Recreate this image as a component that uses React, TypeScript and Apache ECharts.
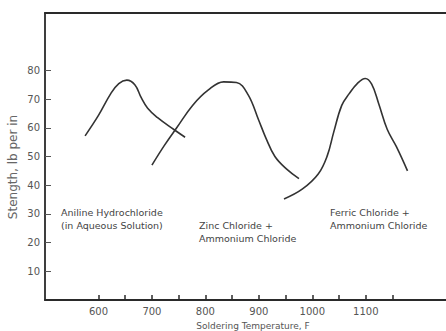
import React, { useEffect, useRef } from "react";
import * as echarts from "echarts";

// Aniline Hydrochloride (in Aqueous Solution)
const anilineX = [575, 600, 623, 638, 653, 668, 680, 692, 710, 741, 762];
const anilineY = [57.2, 64.3, 71.9, 75.4, 76.6, 75, 70.5, 66.8, 63.6, 59.4, 56.7];
// Zinc Chloride + Ammonium Chloride
const zincX = [700, 723, 747, 776, 805, 834, 858, 880, 899, 913, 930, 952, 975];
const zincY = [47, 53.8, 60.2, 67.8, 73.1, 76, 75.8, 71.5, 63, 56.5, 50, 45.6, 42.3];
// Ferric Chloride + Ammonium Chloride
const ferricX = [947, 981, 1011, 1028, 1040, 1055, 1069, 1084, 1099, 1111, 1124, 1140, 1157, 1178];
const ferricY = [35.2, 38.6, 43.9, 50.3, 58.5, 67.8, 71.9, 75.4, 77.2, 75.2, 68.5, 59.5, 53.5, 45];

const xTickValues = [600, 650, 700, 750, 800, 850, 900, 950, 1000, 1050, 1100, 1150];
const xLabelValues = [600, 700, 800, 900, 1000, 1100];
const yTickValues = [10, 20, 30, 40, 50, 60, 70, 80];

const xTitle = "Soldering Temperature, F";
const yTitle = "Stength, lb per in";
const annotations = [
  { text: "Aniline Hydrochloride\n(in Aqueous Solution)", left: 61, top: 206 },
  { text: "Zinc Chloride +\nAmmonium Chloride", left: 199, top: 219 },
  { text: "Ferric Chloride +\nAmmonium Chloride", left: 330, top: 206 },
];

const zip = (xs: number[], ys: number[]) => xs.map((x, i) => [x, ys[i]]);

const INK = "#2a2a2a";
const FONT = "DejaVu Sans";

export default function App() {
  const ref = useRef<HTMLDivElement>(null);
  useEffect(() => {
    if (!ref.current) return;
    const chart = echarts.init(ref.current, undefined, { renderer: "svg" });
    const lineSeries = (name: string, xs: number[], ys: number[]) => ({
      name,
      type: "line",
      data: zip(xs, ys),
      smooth: 0.4,
      showSymbol: false,
      lineStyle: { color: "#333", width: 1.6 },
    });
    chart.setOption({
      animation: false,
      backgroundColor: "#fff",
      grid: { left: 45, right: -25, top: 13, bottom: 31 },
      xAxis: [
        {
          type: "value",
          min: 500,
          max: 1250,
          position: "bottom",
          axisLine: { show: true, lineStyle: { color: INK, width: 2 } },
          axisTick: {
            show: true,
            inside: true,
            length: 5,
            customValues: xTickValues,
            lineStyle: { color: INK, width: 1.5 },
          },
          axisLabel: {
            customValues: xLabelValues,
            formatter: (v: number) => String(v),
            color: "#555",
            fontSize: 10,
            fontFamily: FONT,
            margin: 6,
          },
          splitLine: { show: false },
        },
        {
          type: "value",
          min: 500,
          max: 1250,
          position: "top",
          axisLine: { show: true, lineStyle: { color: INK, width: 2 } },
          axisTick: { show: false },
          axisLabel: { show: false },
          splitLine: { show: false },
        },
      ],
      yAxis: {
        type: "value",
        min: 0,
        max: 100,
        axisLine: { show: true, lineStyle: { color: INK, width: 1.8 } },
        axisTick: {
          show: true,
          inside: true,
          length: 6,
          customValues: yTickValues,
          lineStyle: { color: "#555", width: 1 },
        },
        axisLabel: {
          customValues: yTickValues,
          color: "#555",
          fontSize: 10,
          fontFamily: FONT,
          margin: 5,
        },
        splitLine: { show: false },
      },
      series: [
        lineSeries("Aniline Hydrochloride", anilineX, anilineY),
        lineSeries("Zinc Chloride + Ammonium Chloride", zincX, zincY),
        lineSeries("Ferric Chloride + Ammonium Chloride", ferricX, ferricY),
      ],
      graphic: [
        ...annotations.map((a) => ({
          type: "text",
          left: a.left,
          top: a.top,
          style: {
            text: a.text,
            fill: "#444",
            font: `9.5px "${FONT}"`,
            lineHeight: 13,
          },
        })),
        {
          type: "text",
          x: 253,
          y: 326,
          style: {
            text: xTitle,
            fill: "#555",
            font: `9px "${FONT}"`,
            align: "center",
            verticalAlign: "middle",
          },
        },
        {
          type: "text",
          x: 13,
          y: 167,
          rotation: Math.PI / 2,
          style: {
            text: yTitle,
            fill: "#666",
            font: `12px "${FONT}"`,
            align: "center",
            verticalAlign: "middle",
          },
        },
      ],
    });
    return () => chart.dispose();
  }, []);
  return (
    <div
      ref={ref}
      style={{ position: "fixed", left: 0, top: 0, width: 446, height: 331 }}
    />
  );
}
